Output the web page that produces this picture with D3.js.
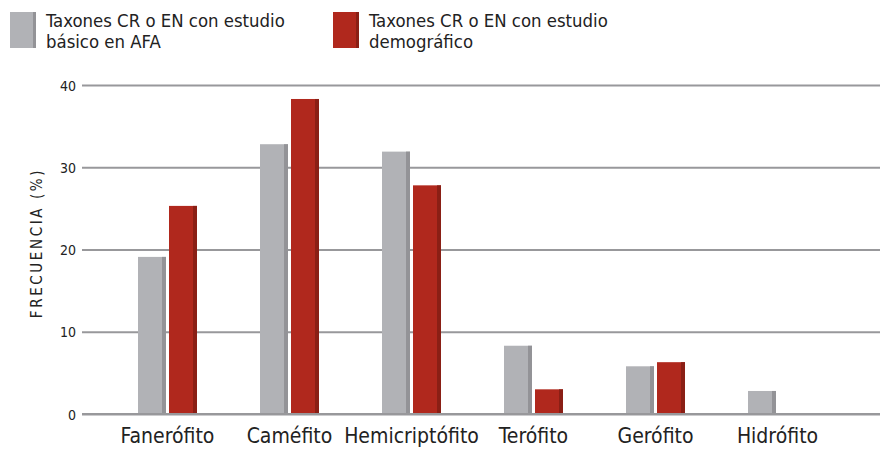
<!DOCTYPE html>
<html>
<head>
<meta charset="utf-8">
<script src="https://cdn.jsdelivr.net/npm/d3@7"></script>
<style>
  html, body { margin: 0; padding: 0; background: #fff; }
  svg { display: block; }
  text { font-family: "DejaVu Sans Condensed", "DejaVu Sans", sans-serif; }
</style>
</head>
<body>
<svg id="chart" width="885" height="472"></svg>
<script>
// Life-form categories (Raunkiaer) and frequencies (%)
const categories = ["Fanerófito", "Caméfito", "Hemicriptófito", "Terófito", "Gerófito", "Hidrófito"];
const seriesNames = ["basico", "demografico"];
const basicoValues = [19.1, 32.8, 31.9, 8.3, 5.8, 2.8];
const demograficoValues = [25.3, 38.3, 27.8, 3.0, 6.3, 0];
const yTicks = [0, 10, 20, 30, 40];
const legendLabels = [
  ["Taxones CR o EN con estudio", "básico en AFA"],
  ["Taxones CR o EN con estudio", "demográfico"]
];

const fills = { basico: "#b1b2b6", demografico: "#b0281d" };
const shades = { basico: "#939397", demografico: "#8a1f15" };
const gridColor = "#98989b";
const textColor = "#222";

const svg = d3.select("#chart");

const rows = categories.map((c, i) => ({
  cat: c,
  values: [
    { key: "basico", value: basicoValues[i] },
    { key: "demografico", value: demograficoValues[i] }
  ]
}));

const x0 = d3.scaleBand().domain(categories).range([106.5, 838.5]).padding(0);
const x1 = d3.scaleBand().domain(seriesNames).range([31.5, 90.5]).paddingInner(3 / 31).paddingOuter(0);
const y = d3.scaleLinear().domain([0, 40]).range([414, 85]);

// Horizontal grid lines with tick labels
const yAxis = d3.axisLeft(y).tickValues(yTicks).tickSize(-(880 - 82)).tickPadding(6);
const gAxis = svg.append("g").attr("transform", "translate(82,0)").call(yAxis)
  .attr("font-size", 14)
  .attr("font-family", "'DejaVu Sans Condensed', 'DejaVu Sans', sans-serif");
gAxis.select(".domain").remove();
gAxis.selectAll(".tick line").attr("stroke", gridColor).attr("stroke-width", 2);
gAxis.selectAll(".tick text")
  .attr("fill", textColor)
  .attr("dy", "0.36em")
  .style("font-size", "14px");

// Y axis title
svg.append("text")
  .attr("transform", "translate(42,243) rotate(-90)")
  .attr("text-anchor", "middle")
  .attr("fill", textColor)
  .style("font-size", "15px")
  .style("letter-spacing", "2.6px")
  .text("FRECUENCIA (%)");

// Bars
const shadeW = 4;
const groups = svg.append("g").selectAll("g")
  .data(rows)
  .join("g")
  .attr("transform", d => `translate(${x0(d.cat)},0)`);

const bars = groups.selectAll("g")
  .data(d => d.values.filter(v => v.value > 0))
  .join("g");

bars.append("rect")
  .attr("x", d => x1(d.key))
  .attr("y", d => y(d.value))
  .attr("width", x1.bandwidth())
  .attr("height", d => y(0) - y(d.value))
  .attr("fill", d => fills[d.key]);

bars.append("rect")
  .attr("x", d => x1(d.key) + x1.bandwidth() - shadeW)
  .attr("y", d => y(d.value))
  .attr("width", shadeW)
  .attr("height", d => y(0) - y(d.value))
  .attr("fill", d => shades[d.key]);

// Baseline redrawn above bars
svg.append("line")
  .attr("x1", 82).attr("x2", 880)
  .attr("y1", y(0)).attr("y2", y(0))
  .attr("stroke", gridColor).attr("stroke-width", 2);

// Category labels
svg.append("g").selectAll("text")
  .data(categories)
  .join("text")
  .attr("x", d => x0(d) + x0.bandwidth() / 2)
  .attr("y", 443)
  .attr("text-anchor", "middle")
  .attr("fill", textColor)
  .style("font-size", "21px")
  .text(d => d);

// Legend
const legendX = [10, 333];
const leg = svg.append("g").selectAll("g")
  .data(seriesNames)
  .join("g")
  .attr("transform", (d, i) => `translate(${legendX[i]},12)`);

leg.append("rect").attr("x", 0).attr("y", 0).attr("width", 26).attr("height", 36)
  .attr("fill", d => fills[d]);
leg.append("rect").attr("x", 23).attr("y", 0).attr("width", 3).attr("height", 36)
  .attr("fill", d => shades[d]);

leg.append("text")
  .attr("fill", textColor)
  .style("font-size", "18.4px")
  .selectAll("tspan")
  .data((d, i) => legendLabels[i])
  .join("tspan")
  .attr("x", 36)
  .attr("y", (d, i) => 15 + i * 21)
  .text(d => d);
</script>
</body>
</html>
